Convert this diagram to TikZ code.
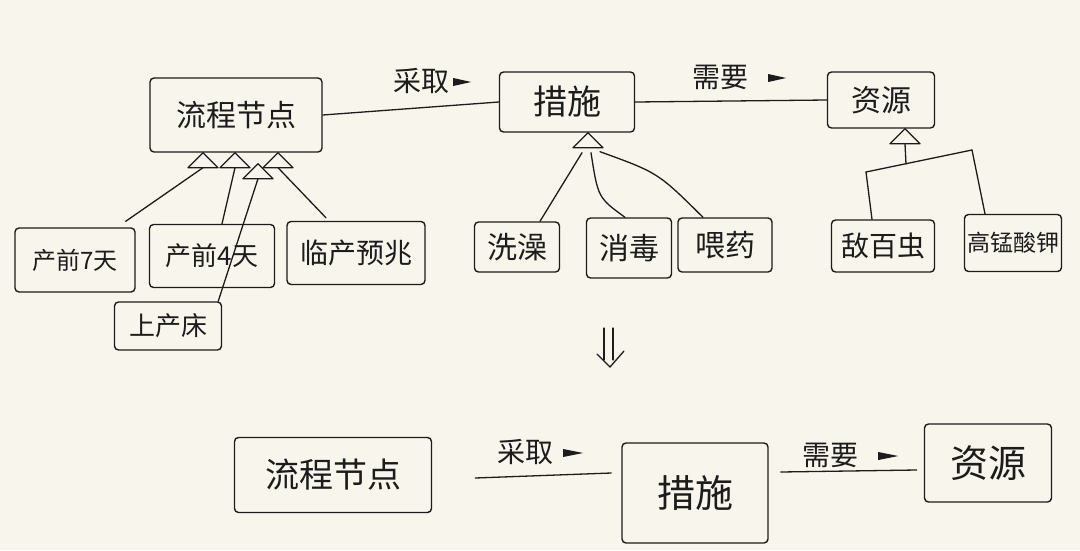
\documentclass[tikz,border=0pt]{standalone}
\usepackage{fontspec}
\newfontfamily\cjk{Noto Sans CJK SC}
\usetikzlibrary{calc}
\definecolor{paper}{HTML}{F7F5EC}
\definecolor{ink}{HTML}{1C1C1C}
\newcommand\myfs[1]{\cjk\fontsize{#1}{#1}\selectfont}
\newcommand\gtri[1]{\draw[wire, fill=paper, line join=round] (#1) -- ++(-15,15) -- ++(30,0) -- cycle;}
\tikzset{
  box/.style={draw=ink, line width=1.4pt, rounded corners=4pt, inner sep=0pt, text=ink},
  wire/.style={draw=ink, line width=1.3pt, line cap=round},
  lab/.style={text=ink, inner sep=0pt},
  tip/.style={fill=ink}
}
\begin{document}
\begin{tikzpicture}[x=1pt, y=-1pt]
\fill[paper] (0,0) rectangle (1080,550);
\useasboundingbox (0,0) rectangle (1080,550);

% ---------- top row ----------
\node[box, minimum width=172pt, minimum height=74pt, font=\myfs{30}] (lc) at (236,115) {流程节点};
\node[box, minimum width=135pt, minimum height=60pt, font=\myfs{34}] (cs) at (567,102) {措施};
\node[box, minimum width=107pt, minimum height=56pt, font=\myfs{30}] (zy) at (881,100) {资源};

\draw[wire] (lc.east) -- (cs.west);
\draw[wire] (cs.east) -- (zy.west);

\node[lab, font=\myfs{28}] (l1) at (421,81) {采取};
\fill[tip] ($(l1.east)+(4,-3)$) -- ($(l1.east)+(22,1)$) -- ($(l1.east)+(4,5)$) -- cycle;
\node[lab, font=\myfs{28}] (l2) at (720,77) {需要};
\fill[tip] ($(l2.east)+(20,-3)$) -- ($(l2.east)+(38,1)$) -- ($(l2.east)+(20,5)$) -- cycle;

% children of 流程节点
\node[box, minimum width=120pt, minimum height=64pt, font=\myfs{24}] (d7) at (75,260) {产前7天};
\node[box, minimum width=125pt, minimum height=63pt, font=\myfs{26}] (d4) at (212,256) {产前4天};
\node[box, minimum width=138pt, minimum height=63pt, font=\myfs{28}] (lz) at (356,253) {临产预兆};
\node[box, minimum width=107pt, minimum height=48pt, font=\myfs{26}] (sc) at (168,326) {上产床};

\coordinate (a1) at ($(lc.south)+(-33,0)$);
\coordinate (a2) at ($(lc.south)+(-1,0)$);
\coordinate (a3) at ($(lc.south)+(22,11)$);
\coordinate (a4) at ($(lc.south)+(42,0)$);
\draw[wire] ($(d7.north east)+(-10,-6)$) -- ($(a1)+(0,15)$);
\draw[wire] ($(d4.north)+(10,0)$) -- ($(a2)+(0,15)$);
\draw[wire] ($(sc.north east)+(-4,0)$) -- ($(a3)+(0,15)$);
\draw[wire] ($(lz.north)+(-30,-3)$) -- ($(a4)+(0,15)$);
\gtri{a1} \gtri{a2} \gtri{a4} \gtri{a3}

% children of 措施
\node[box, minimum width=85pt, minimum height=50pt, font=\myfs{30}] (xz) at (517,247) {洗澡};
\node[box, minimum width=85pt, minimum height=60pt, font=\myfs{30}] (xd) at (629,248) {消毒};
\node[box, minimum width=94pt, minimum height=54pt, font=\myfs{30}] (wy) at (725,245) {喂药};

\coordinate (csA) at ($(cs.south)+(21,0)$);
\coordinate (csT) at ($(csA)+(0,15)$);
\draw[wire] ($(xz.north)+(23,0)$) -- ($(csT)+(-6,5)$);
\draw[wire] ($(xd.north)+(-4,0)$) .. controls ($(csT)+(10,50)$) .. ($(csT)+(3,5)$);
\draw[wire] ($(wy.north)+(-22,0)$) .. controls ($(csT)+(70,25)$) .. ($(csT)+(12,4)$);
\gtri{csA}

% children of 资源
\node[box, minimum width=103pt, minimum height=52pt, font=\myfs{28}] (db) at (883,246) {敌百虫};
\node[box, minimum width=97pt, minimum height=57pt, font=\myfs{23}] (gm) at (1013,243) {高锰酸钾};

\coordinate (zyA) at ($(zy.south)+(24,0)$);
\coordinate (zyT) at ($(zyA)+(0,15)$);
\coordinate (bL) at (866,172);
\coordinate (bR) at (972,150);
\coordinate (bM) at (906,164);
\draw[wire] (zyT) -- (bM);
\draw[wire] (bL) -- (bR);
\draw[wire] (bL) -- ($(db.north)+(-11,0)$);
\draw[wire] (bR) -- ($(gm.north)+(-28,0)$);
\gtri{zyA}

% down arrow (drawn)
\coordinate (dn) at (612,348);
\draw[wire] ($(dn)+(-8,-20)$) -- ($(dn)+(-8,12)$);
\draw[wire] ($(dn)+(1,-20)$) -- ($(dn)+(1,12)$);
\draw[wire] ($(dn)+(-15,6)$) -- ($(dn)+(-2,19)$) -- ($(dn)+(12,3)$);

% ---------- bottom row ----------
\node[box, minimum width=197pt, minimum height=75pt, font=\myfs{34}] (lcB) at (333,475) {流程节点};
\node[box, minimum width=146pt, minimum height=100pt, font=\myfs{38}] (csB) at (695,493) {措施};
\node[box, minimum width=127pt, minimum height=78pt, font=\myfs{38}] (zyB) at (988,463) {资源};

\draw[wire] ($(lcB.east)+(43,3)$) -- ($(csB.west)+(-10,-20)$);
\draw[wire] ($(csB.east)+(12,-21)$) -- ($(zyB.west)+(-7,7)$);

\node[lab, font=\myfs{28}] (l3) at (525,452) {采取};
\fill[tip] ($(l3.east)+(10,-3)$) -- ($(l3.east)+(30,1)$) -- ($(l3.east)+(10,5)$) -- cycle;
\node[lab, font=\myfs{28}] (l4) at (830,455) {需要};
\fill[tip] ($(l4.east)+(20,-3)$) -- ($(l4.east)+(40,1)$) -- ($(l4.east)+(20,5)$) -- cycle;
\end{tikzpicture}
\end{document}
